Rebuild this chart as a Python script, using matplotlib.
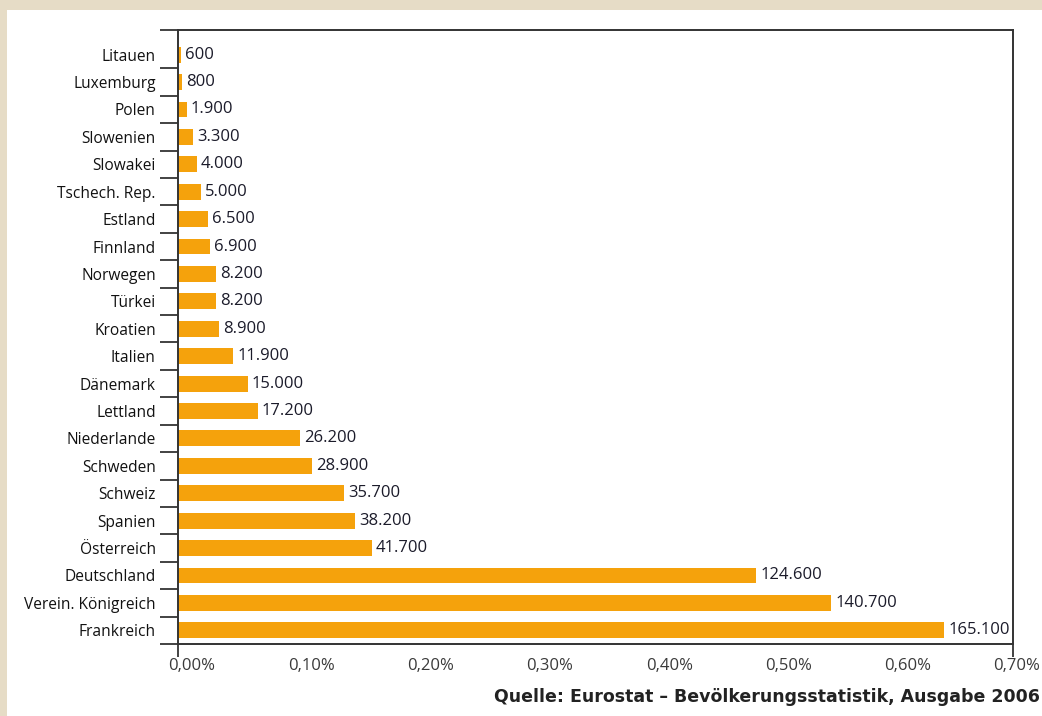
import matplotlib
matplotlib.use("Agg")
import matplotlib.pyplot as plt
import matplotlib.transforms as mtransforms
from matplotlib.patches import Rectangle
from matplotlib.ticker import FixedLocator

# Asylbewerber je Land (von unten nach oben)
laender = [
    "Frankreich", "Verein. Königreich", "Deutschland", "Österreich", "Spanien",
    "Schweiz", "Schweden", "Niederlande", "Lettland", "Dänemark", "Italien",
    "Kroatien", "Türkei", "Norwegen", "Finnland", "Estland", "Tschech. Rep.",
    "Slowakei", "Slowenien", "Polen", "Luxemburg", "Litauen",
]
anzahl = [
    165100, 140700, 124600, 41700, 38200, 35700, 28900, 26200, 17200, 15000,
    11900, 8900, 8200, 8200, 6900, 6500, 5000, 4000, 3300, 1900, 800, 600,
]
x_ticks = [0.0, 0.1, 0.2, 0.3, 0.4, 0.5, 0.6, 0.7]
x_labels = ["0,00%", "0,10%", "0,20%", "0,30%", "0,40%", "0,50%", "0,60%", "0,70%"]
bezug = 25_700_000  # Bezugsgröße für die Prozentskala
quelle = "Quelle: Eurostat – Bevölkerungsstatistik, Ausgabe 2006"

orange = "#f5a20c"
beige = "#e6dcc6"
font = "Open Sans"

prozent = [n / bezug * 100 for n in anzahl]
pos = list(range(len(laender)))

fig = plt.figure(figsize=(10.42, 7.16), dpi=100, facecolor=beige)
fig.patches.append(Rectangle((7 / 1042, 0), 1, 706 / 716, transform=fig.transFigure,
                             facecolor="white", edgecolor="none", zorder=-5))

ax = fig.add_axes([178 / 1042, 72 / 716, 835 / 1042, 614 / 716])
ax.set_zorder(2)
ax.set_facecolor("white")
ax.barh(pos, prozent, height=0.58, color=orange, zorder=2)

def tausender(n):
    return f"{n:,}".replace(",", ".")

for y, p, n in zip(pos, prozent, anzahl):
    ax.annotate(tausender(n), (p, y), xytext=(3, 0), textcoords="offset points",
                va="center", ha="left", fontsize=12, color="#1b1b2a", family=font)

ax.set_xlim(0, 0.7)
ax.set_ylim(-0.5, len(laender) - 0.1)

# Achsenbeschriftung unten
ax.set_xticks(x_ticks)
ax.set_xticklabels(x_labels, fontsize=12, color="#3a3a3a", family=font)
ax.tick_params(axis="x", which="major", length=0, pad=10)
ax.xaxis.remove_overlapping_locs = False
ax.xaxis.set_minor_locator(FixedLocator([0.0, 0.7]))
ax.tick_params(axis="x", which="minor", length=9, width=1.2, color="#222222")
for i, lbl in enumerate(ax.get_xticklabels()):
    dx = 4 if i == len(x_labels) - 1 else 14
    lbl.set_transform(lbl.get_transform() + mtransforms.ScaledTranslation(dx / 100, 0, fig.dpi_scale_trans))

# Länderbeschriftung, Striche zwischen den Balken
ax.set_yticks(pos)
ax.set_yticklabels(laender, fontsize=11.2, family=font, color="#111111")
ax.tick_params(axis="y", which="major", length=0, pad=16)
ax.yaxis.set_minor_locator(FixedLocator([p - 0.5 for p in pos] + [len(laender) - 0.1]))
ax.tick_params(axis="y", which="minor", length=13, width=1.2, color="#222222")

for s in ax.spines.values():
    s.set_color("#333333")
    s.set_linewidth(1.4)

fig.text(1040 / 1042, 1 - 697 / 716, quelle, ha="right", va="center",
         fontsize=12.5, fontweight="bold", family="DejaVu Sans", color="#222222")

fig.savefig("out.png", dpi=100, facecolor=beige)
